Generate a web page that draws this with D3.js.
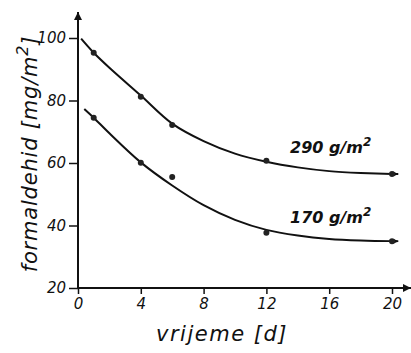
<!DOCTYPE html>
<html>
<head>
<meta charset="utf-8">
<script src="https://cdn.jsdelivr.net/npm/d3@7"></script>
<style>
  body { margin: 0; background: #fff; }
  text { font-family: "DejaVu Sans", sans-serif; font-style: italic; fill: #111; }
</style>
</head>
<body>
<div id="chart"></div>
<script>
// measured points (days, formaldehyde mg/m2)
const days = [1, 4, 6, 12, 20];
const high = [95.3, 81.2, 72.2, 60.7, 56.5];   // 290 g/m2
const low = [74.5, 60.1, 55.5, 37.7, 35];      // 170 g/m2

// fitted curves as drawn in the figure
const highFitDays = [0.2, 1, 2, 4, 6, 8, 10, 12, 14, 16, 18, 20, 20.4];
const highFit = [99.8, 95.3, 90.5, 81.6, 72.6, 67, 63, 60.4, 58.6, 57.4, 56.8, 56.5, 56.5];
const lowFitDays = [0.4, 1, 2, 4, 6, 8, 10, 12, 14, 16, 18, 20, 20.4];
const lowFit = [77.3, 74.5, 69.5, 60.2, 52.8, 46.5, 41.8, 38.6, 36.8, 35.7, 35.2, 35, 35];

const xTicks = [0, 4, 8, 12, 16, 20];
const yTicks = [20, 40, 60, 80, 100];

const width = 411, height = 353;
const svg = d3.select("#chart").append("svg")
    .attr("width", width)
    .attr("height", height);

const x = d3.scaleLinear().domain([0, 20]).range([78, 392]);
const y = d3.scaleLinear().domain([20, 100]).range([288, 38]);

// arrow heads
const defs = svg.append("defs");
defs.append("marker")
    .attr("id", "arrow")
    .attr("viewBox", "0 0 10 10")
    .attr("refX", 10).attr("refY", 5)
    .attr("markerWidth", 9).attr("markerHeight", 5)
    .attr("markerUnits", "userSpaceOnUse")
    .attr("orient", "auto")
    .append("path")
    .attr("d", "M0,0 L10,5 L0,10 Z")
    .attr("fill", "#111");
defs.append("marker")
    .attr("id", "arrowBig")
    .attr("viewBox", "0 0 10 10")
    .attr("refX", 10).attr("refY", 5)
    .attr("markerWidth", 20).attr("markerHeight", 8)
    .attr("markerUnits", "userSpaceOnUse")
    .attr("orient", "auto")
    .append("path")
    .attr("d", "M0,0 L10,5 L0,10 Z")
    .attr("fill", "#111");

// axes
const xAxis = svg.append("g")
    .attr("transform", "translate(0," + y(20) + ")")
    .call(d3.axisBottom(x).tickValues(xTicks).tickSize(6).tickPadding(4).tickFormat(d3.format("d")));
const yAxis = svg.append("g")
    .attr("transform", "translate(" + x(0) + ",0)")
    .call(d3.axisLeft(y).tickValues(yTicks).tickSize(9).tickPadding(3).tickFormat(d3.format("d")));

[xAxis, yAxis].forEach(function (g) {
    g.select(".domain").remove();
    g.selectAll(".tick line").attr("stroke", "#111").attr("stroke-width", 1.5);
    g.selectAll(".tick text")
        .attr("font-size", 15)
        .style("font-family", "'DejaVu Sans', sans-serif")
        .style("font-style", "italic")
        .attr("fill", "#111");
});
xAxis.selectAll(".tick text").attr("dy", "0.75em");

svg.append("line")
    .attr("x1", x(0)).attr("y1", y(20))
    .attr("x2", 411).attr("y2", y(20))
    .attr("stroke", "#111").attr("stroke-width", 2)
    .attr("marker-end", "url(#arrowBig)");
svg.append("line")
    .attr("x1", x(0)).attr("y1", y(20))
    .attr("x2", x(0)).attr("y2", 12)
    .attr("stroke", "#111").attr("stroke-width", 2)
    .attr("marker-end", "url(#arrowBig)");

// fitted curves
const line = d3.line()
    .x(d => x(d[0]))
    .y(d => y(d[1]))
    .curve(d3.curveCatmullRom);

[[highFitDays, highFit], [lowFitDays, lowFit]].forEach(function (s) {
    svg.append("path")
        .datum(s[0].map((d, i) => [d, s[1][i]]))
        .attr("d", line)
        .attr("fill", "none")
        .attr("stroke", "#111")
        .attr("stroke-width", 2)
        .attr("marker-end", "url(#arrow)");
});

// measured points
[high, low].forEach(function (vals) {
    svg.append("g").selectAll("circle")
        .data(days.map((d, i) => [d, vals[i]]))
        .enter()
        .append("circle")
        .attr("cx", d => x(d[0]))
        .attr("cy", d => y(d[1]))
        .attr("r", 3)
        .attr("fill", "#222");
});

// series labels
function areaLabel(tx, ty, txt) {
    const t = svg.append("text")
        .attr("x", tx).attr("y", ty)
        .attr("font-size", 16)
        .attr("font-weight", "bold");
    t.append("tspan").text(txt);
    t.append("tspan").attr("dy", -7).attr("font-size", 12).text("2");
}
areaLabel(290, 153, "290 g/m");
areaLabel(290, 223, "170 g/m");

// axis titles
svg.append("text")
    .attr("x", 222).attr("y", 341)
    .attr("text-anchor", "middle")
    .attr("font-size", 21)
    .attr("letter-spacing", 1.5)
    .text("vrijeme  [d]");

const yt = svg.append("text")
    .attr("transform", "translate(37,154) rotate(-90)")
    .attr("text-anchor", "middle")
    .attr("font-size", 21)
    .attr("letter-spacing", 0.8);
yt.append("tspan").text("formaldehid  [mg/m");
yt.append("tspan").attr("dy", -9).attr("font-size", 16).text("2");
yt.append("tspan").attr("dy", 9).text("]");
</script>
</body>
</html>
